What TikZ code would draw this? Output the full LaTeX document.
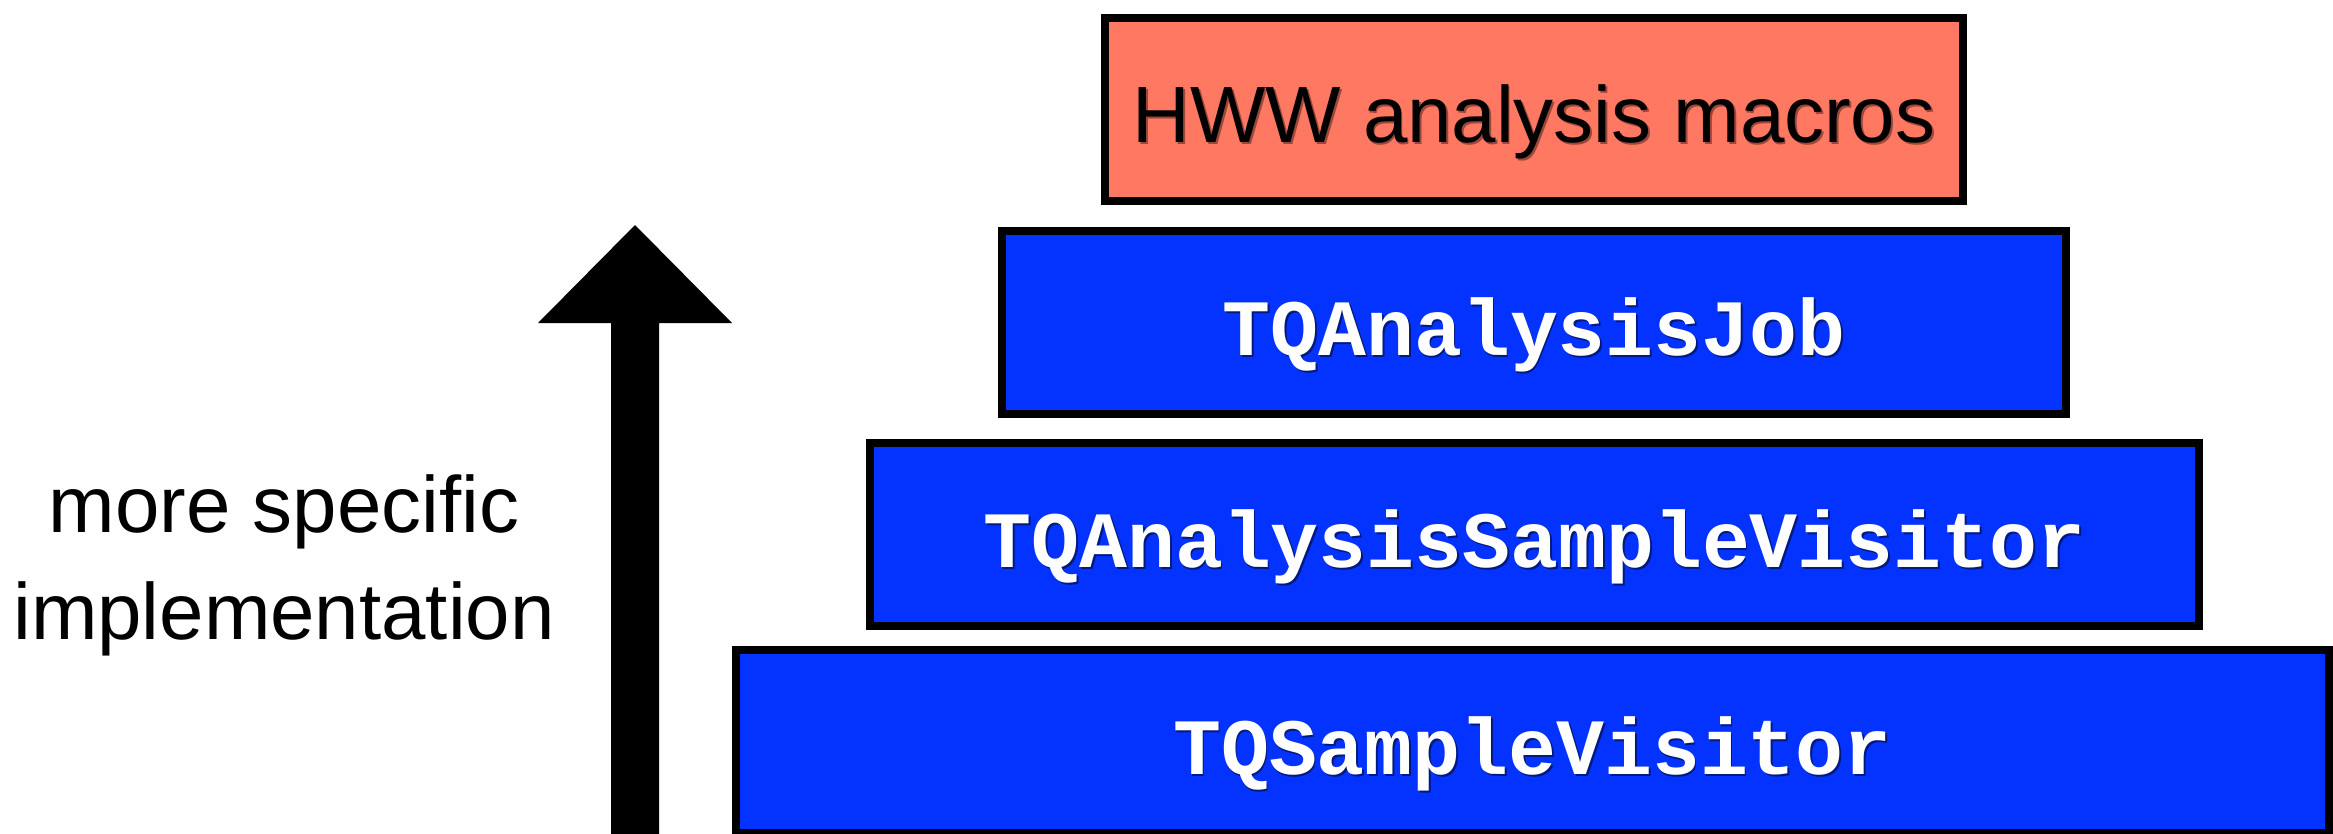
\documentclass[tikz,border=0pt]{standalone}
\usepackage{fontspec}
\setmainfont{Liberation Sans}
\setmonofont{Liberation Mono}
\definecolor{boxblue}{RGB}{4,51,255}
\definecolor{boxred}{RGB}{255,120,98}
\newcommand{\shadowed}[2]{\leavevmode\rlap{\kern0.5pt\raisebox{-0.8pt}{\color{#1}#2}}#2}
\begin{document}
\begin{tikzpicture}[x=0.01cm,y=-0.01cm,
  layerbox/.style={draw=black, line width=0.08cm, inner sep=0pt, anchor=north,
    text height=1.24cm, text depth=0.59cm},
  redbox/.style={layerbox, fill=boxred, text=black, font=\fontsize{22.7}{27}\selectfont},
  bluebox/.style={layerbox, fill=boxblue, text=white, font=\fontsize{22.7}{27}\selectfont\ttfamily\bfseries},
  sidelabel/.style={align=center, font=\fontsize{22.7}{30.4}\selectfont, inner sep=0pt},
  bigarrow/.style={fill=black, draw=none}
]
\useasboundingbox (0,0) rectangle (2333,833);

\node[redbox, minimum width=8.58cm] (hww) at (1534,14)
  {\shadowed{boxred!60!black}{HWW analysis macros}};
\node[bluebox, minimum width=10.64cm] (job) at (1534,227)
  {\shadowed{boxblue!50!black}{TQAnalysisJob}};
\node[bluebox, minimum width=13.29cm] (asv) at (1534.5,439)
  {\shadowed{boxblue!50!black}{TQAnalysisSampleVisitor}};
\node[bluebox, minimum width=15.93cm] (sv) at (1532.5,646)
  {\shadowed{boxblue!50!black}{TQSampleVisitor}};

\node[sidelabel] (lbl) at (284,565) {more specific\\implementation};

\coordinate (tip) at (635,225);
\fill[bigarrow] (611,840) -- (611,323) -- (538,323) -- (tip) -- (732,323) -- (659,323) -- (659,840) -- cycle;
\end{tikzpicture}
\end{document}
